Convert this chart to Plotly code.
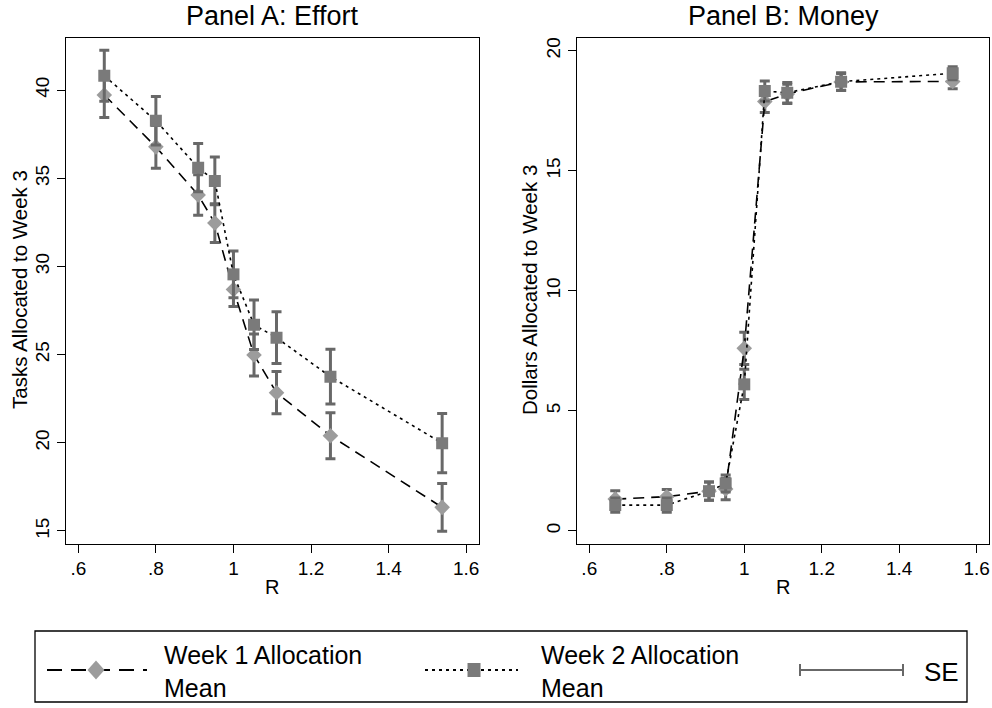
import plotly.graph_objects as go

# ---------------- data ----------------
R = [0.667, 0.8, 0.909, 0.952, 1.0, 1.053, 1.111, 1.25, 1.538]
r_ticks = [0.6, 0.8, 1.0, 1.2, 1.4, 1.6]
r_tick_labels = [".6", ".8", "1", "1.2", "1.4", "1.6"]

effort_week1 = [39.72, 36.78, 34.05, 32.46, 28.69, 24.98, 22.84, 20.40, 16.34]
effort_week1_se = [1.27, 1.21, 1.15, 1.10, 0.96, 1.19, 1.20, 1.30, 1.35]
effort_week2 = [40.81, 38.26, 35.60, 34.85, 29.55, 26.69, 25.96, 23.75, 19.98]
effort_week2_se = [1.45, 1.38, 1.37, 1.35, 1.32, 1.40, 1.47, 1.55, 1.68]
effort_y_ticks = [15, 20, 25, 30, 35, 40]

money_week1 = [1.32, 1.42, 1.65, 1.74, 7.60, 17.88, 18.20, 18.70, 18.72]
money_week1_se = [0.35, 0.30, 0.38, 0.45, 0.67, 0.45, 0.40, 0.35, 0.30]
money_week2 = [1.07, 1.07, 1.65, 1.97, 6.10, 18.32, 18.25, 18.71, 19.06]
money_week2_se = [0.30, 0.30, 0.38, 0.35, 0.63, 0.42, 0.43, 0.37, 0.27]
money_y_ticks = [0, 5, 10, 15, 20]

legend_labels = ["Week 1 Allocation<br>Mean", "Week 2 Allocation<br>Mean", "SE"]

# ---------------- layout helpers ----------------
W, H = 992, 708
FONT = "Liberation Sans, Arial, Helvetica, sans-serif"
def px(x):
    return x / W
def py(y):
    return 1 - y / H

ERR_COLOR = "#686868"
DIAMOND_COLOR = "#9c9c9c"
SQUARE_COLOR = "#7a7a7a"
W1_DASH = "11px,7px"
W2_DASH = "3px,4px"

fig = go.Figure()

def add_panel(xa, ya, w1, w1se, w2, w2se):
    fig.add_trace(go.Scatter(
        x=R, y=w1, mode="lines+markers", xaxis=xa, yaxis=ya,
        line=dict(color="black", width=1.6, dash=W1_DASH),
        marker=dict(symbol="diamond", size=12, color=DIAMOND_COLOR),
        error_y=dict(type="data", array=w1se, color=ERR_COLOR, thickness=3, width=5),
        showlegend=False, name="Week 1 Allocation Mean"))
    fig.add_trace(go.Scatter(
        x=R, y=w2, mode="lines+markers", xaxis=xa, yaxis=ya,
        line=dict(color="black", width=1.6, dash=W2_DASH),
        marker=dict(symbol="square", size=12, color=SQUARE_COLOR),
        error_y=dict(type="data", array=w2se, color=ERR_COLOR, thickness=3, width=5),
        showlegend=False, name="Week 2 Allocation Mean"))

add_panel("x", "y", effort_week1, effort_week1_se, effort_week2, effort_week2_se)
add_panel("x2", "y2", money_week1, money_week1_se, money_week2, money_week2_se)

axis_common = dict(showline=True, mirror=True, linecolor="black", linewidth=1.3,
                   ticks="outside", ticklen=8, tickwidth=1.2, tickcolor="black",
                   showgrid=False, zeroline=False,
                   tickfont=dict(family=FONT, size=19, color="black"))

xa_common = dict(axis_common, tickvals=r_ticks, ticktext=r_tick_labels, range=[0.5683, 1.6317])

fig.update_layout(
    width=W, height=H, margin=dict(l=0, r=0, t=0, b=0),
    paper_bgcolor="white", plot_bgcolor="white",
    font=dict(family=FONT, color="black"),
    xaxis=dict(xa_common, domain=[px(66), px(478.5)], anchor="y"),
    yaxis=dict(axis_common, domain=[py(543.5), py(37.5)], anchor="x",
               range=[14.29, 42.98], tickvals=effort_y_ticks, tickangle=-90),
    xaxis2=dict(xa_common, domain=[px(577), px(989)], anchor="y2"),
    yaxis2=dict(axis_common, domain=[py(543.5), py(37.5)], anchor="x2",
                range=[-0.53, 20.55], tickvals=money_y_ticks, tickangle=-90),
)

ann = []
def text(x, y, s, size, angle=0, xanchor="center", align="center"):
    ann.append(dict(x=px(x), y=py(y), xref="paper", yref="paper", text=s,
                    showarrow=False, textangle=angle, xanchor=xanchor, yanchor="middle",
                    align=align,
                    font=dict(family=FONT, size=size, color="black")))

text(272, 16, "Panel A: Effort", 27)
text(783, 16, "Panel B: Money", 27)
text(20, 290, "Tasks Allocated to Week 3", 20.5, angle=-90)
text(530, 290, "Dollars Allocated to Week 3", 20.5, angle=-90)
text(272, 587, "R", 20)
text(783, 587, "R", 20)

# legend texts
text(162, 671, legend_labels[0], 25, xanchor="left", align="left")
text(539, 671, legend_labels[1], 25, xanchor="left", align="left")
text(922, 672, legend_labels[2], 26, xanchor="left")

shapes = []
# legend box
shapes.append(dict(type="rect", xref="paper", yref="paper",
                   x0=px(35), x1=px(967), y0=py(702), y1=py(631),
                   line=dict(color="black", width=1.3)))
LY = 670
# week 1 sample
shapes.append(dict(type="line", xref="paper", yref="paper", x0=px(47), x1=px(147),
                   y0=py(LY), y1=py(LY), line=dict(color="black", width=1.8, dash="15px,9px")))
cx = 96
shapes.append(dict(type="path", xref="paper", yref="paper",
                   path=f"M {px(cx-8.5)} {py(LY)} L {px(cx)} {py(LY-9.5)} L {px(cx+8.5)} {py(LY)} L {px(cx)} {py(LY+9.5)} Z",
                   fillcolor=DIAMOND_COLOR, line=dict(width=0)))
# week 2 sample
shapes.append(dict(type="line", xref="paper", yref="paper", x0=px(425), x1=px(518),
                   y0=py(LY), y1=py(LY), line=dict(color="black", width=1.8, dash=W2_DASH)))
cx = 474
shapes.append(dict(type="rect", xref="paper", yref="paper",
                   x0=px(cx-6.5), x1=px(cx+6.5), y0=py(LY+7), y1=py(LY-7),
                   fillcolor=SQUARE_COLOR, line=dict(width=0)))
# SE sample
shapes.append(dict(type="line", xref="paper", yref="paper", x0=px(800), x1=px(903),
                   y0=py(LY), y1=py(LY), line=dict(color=ERR_COLOR, width=2)))
for ex in (800, 903):
    shapes.append(dict(type="line", xref="paper", yref="paper", x0=px(ex), x1=px(ex),
                       y0=py(LY-6), y1=py(LY+6), line=dict(color=ERR_COLOR, width=2)))

fig.update_layout(annotations=ann, shapes=shapes)

fig.write_html("out.html")
